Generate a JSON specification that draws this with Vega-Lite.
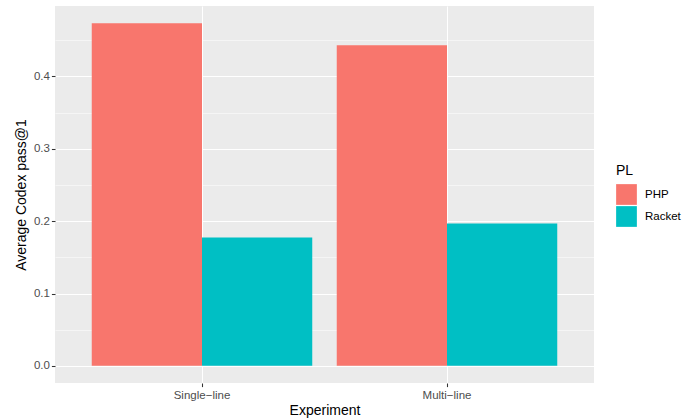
{
  "$schema": "https://vega.github.io/schema/vega-lite/v6.json",
  "width": 539,
  "height": 377,
  "autosize": {"type": "none"},
  "padding": {"left": 55, "top": 6, "right": 88, "bottom": 37},
  "background": "white",
  "config": {
    "font": "Liberation Sans",
    "view": {"fill": "#EBEBEB", "stroke": null},
    "axis": {
      "domain": false,
      "gridColor": "white",
      "tickColor": "#333333",
      "tickSize": 3.6,
      "tickWidth": 1.07,
      "labelColor": "#4D4D4D",
      "labelFontSize": 11.5,
      "labelFont": "Liberation Sans",
      "titleFont": "Liberation Sans",
      "titleFontSize": 14,
      "titleFontWeight": "normal",
      "titleColor": "black"
    }
  },
  "data": {
    "values": [
      {"Experiment": "Single−line", "PL": "PHP", "pass": 0.4737},
      {"Experiment": "Single−line", "PL": "Racket", "pass": 0.1773},
      {"Experiment": "Multi−line", "PL": "PHP", "pass": 0.4432},
      {"Experiment": "Multi−line", "PL": "Racket", "pass": 0.1967}
    ]
  },
  "mark": {"type": "bar"},
  "encoding": {
    "x": {
      "field": "Experiment",
      "type": "nominal",
      "sort": ["Single−line", "Multi−line"],
      "scale": {"paddingInner": 0.1, "paddingOuter": 0.15},
      "axis": {
        "title": "Experiment",
        "labelAngle": 0,
        "bandPosition": 0.5,
        "grid": true,
        "gridWidth": 1.07,
        "labelPadding": 2.5,
        "titlePadding": 3
      }
    },
    "xOffset": {"field": "PL", "type": "nominal", "sort": ["PHP", "Racket"], "scale": {"paddingInner": 0, "paddingOuter": 0}},
    "y": {
      "field": "pass",
      "type": "quantitative",
      "scale": {"domain": [-0.0237, 0.4974], "nice": false, "zero": false},
      "axis": {
        "title": "Average Codex pass@1",
        "values": [0, 0.05, 0.1, 0.15, 0.2, 0.25, 0.3, 0.35, 0.4, 0.45],
        "labelExpr": "round(datum.value*20) % 2 == 0 ? format(datum.value, '.1f') : ''",
        "grid": true,
        "gridWidth": {"condition": {"test": "round(datum.value*20) % 2 == 0", "value": 1.07}, "value": 0.53},
        "tickOpacity": {"condition": {"test": "round(datum.value*20) % 2 == 0", "value": 1}, "value": 0},
        "labelPadding": 2,
        "titlePadding": 5
      }
    },
    "color": {
      "field": "PL",
      "type": "nominal",
      "scale": {"domain": ["PHP", "Racket"], "range": ["#F8766D", "#00BFC4"]},
      "legend": {
        "title": "PL",
        "orient": "none",
        "legendX": 561,
        "legendY": 158,
        "titleFontSize": 14,
        "titleFontWeight": "normal",
        "titleColor": "black",
        "titlePadding": 6,
        "labelFontSize": 11.5,
        "labelColor": "black",
        "labelFont": "Liberation Sans",
        "titleFont": "Liberation Sans",
        "symbolType": "square",
        "symbolSize": 430,
        "symbolStrokeWidth": 0,
        "symbolOpacity": 1,
        "rowPadding": 1,
        "labelOffset": 8,
        "padding": 0
      }
    }
  }
}
